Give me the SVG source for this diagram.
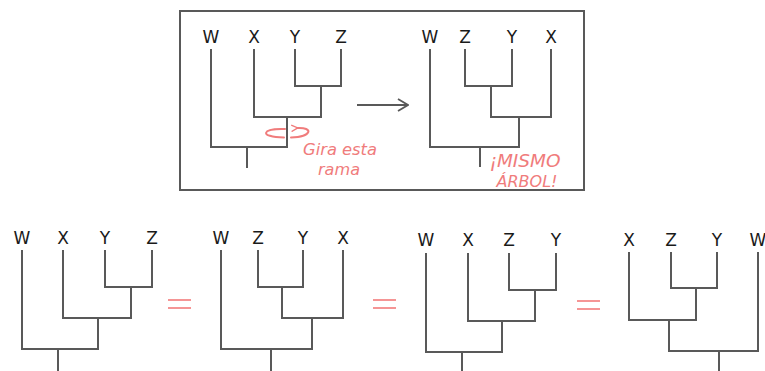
<svg xmlns="http://www.w3.org/2000/svg" width="765" height="371" viewBox="0 0 765 371">
<defs>
<style>
.br{fill:none;stroke:#595959;stroke-width:2;stroke-linecap:square;stroke-linejoin:miter}
.lb{font-family:"DejaVu Sans","Liberation Sans",sans-serif;font-size:17px;fill:#1a1a1a;text-anchor:middle}
.pk{font-family:"DejaVu Sans","Liberation Sans",sans-serif;font-style:italic;fill:#f07c7c;text-anchor:middle}
.eq{stroke:#f59595;stroke-width:2;fill:none}
</style>
<marker id="chev" viewBox="0 0 12 14" refX="11" refY="7" markerWidth="12" markerHeight="14" markerUnits="userSpaceOnUse" orient="auto">
<path d="M1 1 L11 7 L1 13" fill="none" stroke="#595959" stroke-width="1.8"/>
</marker>
<marker id="curl" viewBox="0 0 10 10" refX="2" refY="5" markerWidth="8" markerHeight="8" markerUnits="userSpaceOnUse" orient="auto">
<path d="M9 1 L1 5 L9 9" fill="none" stroke="#f07c7c" stroke-width="1.8"/>
</marker>
</defs>
<rect width="765" height="371" fill="#ffffff"/>
<rect id="frame" x="180" y="11" width="404" height="179" fill="none" stroke="#595959" stroke-width="2"/>

<g id="tree-before">
<text class="lb" x="211" y="43">W</text>
<text class="lb" x="254" y="43">X</text>
<text class="lb" x="295" y="43">Y</text>
<text class="lb" x="341" y="43">Z</text>
<path class="br" d="M211 50 V147 H287 V117 M254 50 V117 H321 V86 M295 50 V86 H341 V50 M247 147 V167"/>
</g>

<g id="rotation-note">
<path d="M285 129 C262 128 258 137 284 137.5" fill="none" stroke="#f07c7c" stroke-width="2" stroke-linecap="round"/>
<path d="M291 137.5 C312 137 314 127 297 128" fill="none" stroke="#f07c7c" stroke-width="2" stroke-linecap="round" marker-end="url(#curl)"/>
<text class="pk" x="340" y="155" font-size="16" textLength="74" lengthAdjust="spacingAndGlyphs">Gira esta</text>
<text class="pk" x="339" y="175" font-size="16" textLength="42" lengthAdjust="spacingAndGlyphs">rama</text>
</g>

<g id="tree-after">
<text class="lb" x="430" y="43">W</text>
<text class="lb" x="465" y="43">Z</text>
<text class="lb" x="512" y="43">Y</text>
<text class="lb" x="551" y="43">X</text>
<path class="br" d="M430 50 V147 H519 V117 M465 50 V86 H512 V50 M491 86 V117 H551 V50 M480 147 V166"/>
</g>

<g id="same-note">
<text class="pk" x="525" y="167" font-size="17" textLength="71" lengthAdjust="spacingAndGlyphs">¡MISMO</text>
<text class="pk" x="527" y="187" font-size="16" textLength="61" lengthAdjust="spacingAndGlyphs">ÁRBOL!</text>
</g>

<g id="tree-1">
<text class="lb" x="22" y="244">W</text>
<text class="lb" x="63" y="244">X</text>
<text class="lb" x="105" y="244">Y</text>
<text class="lb" x="152" y="244">Z</text>
<path class="br" d="M22 251 V349 H98 V318 M63 251 V318 H131 V287 M105 251 V287 H152 V251 M58 349 V372"/>
</g>

<g id="tree-2">
<text class="lb" x="221" y="244">W</text>
<text class="lb" x="258" y="244">Z</text>
<text class="lb" x="303" y="244">Y</text>
<text class="lb" x="343" y="244">X</text>
<path class="br" d="M221 251 V349 H312 V318 M258 251 V287 H303 V251 M282 287 V318 H343 V251 M271 349 V372"/>
</g>

<g id="tree-3">
<text class="lb" x="426" y="246">W</text>
<text class="lb" x="468" y="246">X</text>
<text class="lb" x="509" y="246">Z</text>
<text class="lb" x="556" y="246">Y</text>
<path class="br" d="M426 254 V352 H502 V321 M468 254 V321 H535 V290 M509 254 V290 H556 V254 M462 352 V372"/>
</g>

<g id="tree-4">
<text class="lb" x="629" y="246">X</text>
<text class="lb" x="671" y="246">Z</text>
<text class="lb" x="717" y="246">Y</text>
<text class="lb" x="758" y="246">W</text>
<path class="br" d="M629 253 V320 H696 V288 M671 253 V288 H717 V253 M669 320 V351 H758 V253 M719 351 V372"/>
</g>

<g id="connectors">
<path d="M357 105 H408" fill="none" stroke="#595959" stroke-width="2" marker-end="url(#chev)"/>
<path class="eq" d="M168 300 H191 M168 308 H191"/>
<path class="eq" d="M373 300 H396 M373 308 H396"/>
<path class="eq" d="M577 301 H600 M577 309 H600"/>
</g>
</svg>
